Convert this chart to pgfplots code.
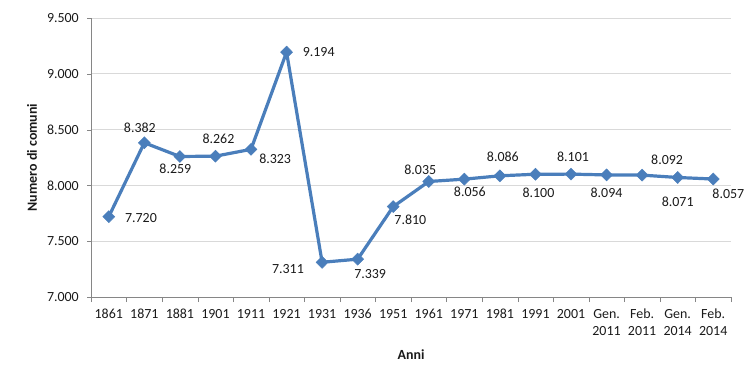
\documentclass[border=0pt]{standalone}
\usepackage{fontspec}
\setmainfont{Carlito}
\usepackage{pgfplots}
\pgfplotsset{compat=1.18}
\definecolor{lineblue}{HTML}{4A7EBB}
\definecolor{gridgray}{HTML}{D9D9D9}
\definecolor{axisgray}{HTML}{868686}
\definecolor{txt}{HTML}{1A1A1A}
\pgfkeys{/pgf/number format/.cd,fixed,precision=0,1000 sep={.},assume math mode=true}

\begin{document}
\begin{tikzpicture}
\begin{axis}[
  name=ax,
  scale only axis,
  width=640bp, height=279bp,
  xmin=-0.5, xmax=17.5,
  ymin=7000, ymax=9500,
  ytick={7000,7500,...,9500},
  xtick={0,...,17},
  xticklabels={1861,1871,1881,1901,1911,1921,1931,1936,1951,1961,1971,1981,1991,2001,{Gen.\\2011},{Feb.\\2011},{Gen.\\2014},{Feb.\\2014}},
  minor xtick={-0.5,0.5,...,17.5},
  major x tick style={draw=none},
  minor x tick style={axisgray},
  minor tick length=5bp,
  major tick length=4bp,
  tick align=outside,
  ytick style={axisgray},
  axis x line*=bottom,
  axis y line*=left,
  axis line style={axisgray,-},
  ymajorgrids,
  grid style={gridgray, line width=0.8bp},
  clip=false,
  tick label style={font=\fontsize{14}{17}\selectfont, text=txt},
  xticklabel style={align=center, inner sep=0pt, anchor=north, yshift=-8bp},
  yticklabel style={inner sep=0pt, anchor=east, xshift=-8bp},
  xlabel={Anni},
  ylabel={Numero di comuni},
  label style={font=\fontsize{14}{17}\selectfont\bfseries, text=txt},
  xlabel style={at={(axis description cs:0.5,-0.2079)}, anchor=center},
  ylabel style={at={(axis description cs:-0.0922,0.5)}, anchor=center},
]
\addplot[
  color=lineblue, line width=3.2bp,
  mark=diamond*, mark size=6bp,
  mark options={fill=lineblue, draw=lineblue, line width=0.5bp, xscale=1.33},
  nodes near coords,
  visualization depends on={value \thisrow{anc}\as\anc},
  visualization depends on={value \thisrow{dx}\as\dx},
  visualization depends on={value \thisrow{dy}\as\dy},
  every node near coord/.style={anchor=\anc, xshift=\dx bp, yshift=\dy bp, inner sep=0pt, font=\fontsize{14}{17}\selectfont, text=txt},
] table[x=x, y=y] {
x y anc dx dy
0 7720 west 16 -1
1 8382 south -4.5 10
2 8259 north -4.5 -7
3 8262 south 3 12
4 8323 west 8 -9.5
5 9194 west 16 0
6 7311 east -18 -6.5
7 7339 north 12.5 -10
8 7810 west 1 -13
9 8035 south -8.5 7
10 8056 north 5.5 -8
11 8086 south 3 14
12 8100 north 3 -13
13 8101 south 2 12
14 8094 north 0 -13
15 8092 south 25 10
16 8071 north 0 -19
17 8057 west -1 -14.5
};
\end{axis}
\pgfresetboundingbox
\path[use as bounding box] ([shift={(-91bp,-89bp)}]ax.south west) rectangle ++(750bp,386bp);
\end{tikzpicture}
\end{document}
